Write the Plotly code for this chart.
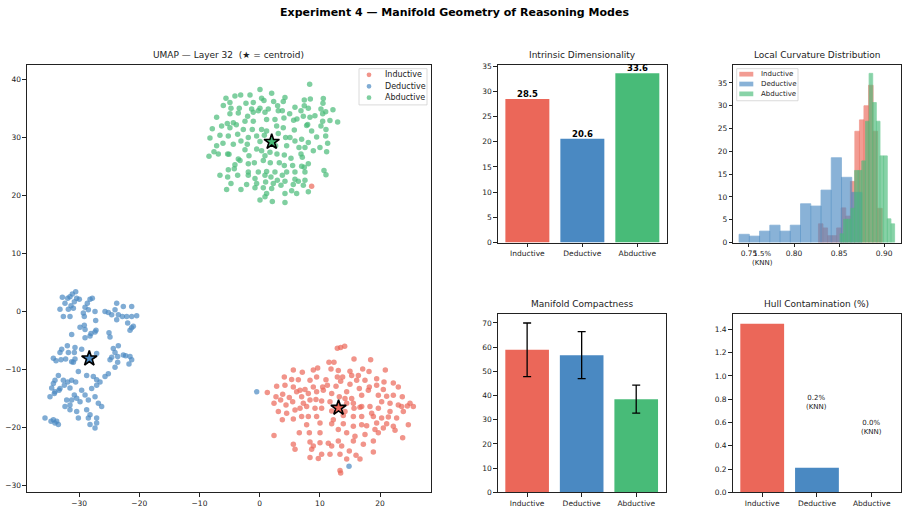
import plotly.graph_objects as go

# ---------------- data ----------------
CATEGORIES = ["Inductive", "Deductive", "Abductive"]
COLORS = {"Inductive": "#EB6759", "Deductive": "#4A89C2", "Abductive": "#48BB78"}

# UMAP embedding
INDUCTIVE_PTS = [
    (12.90, -6.34), (13.45, -6.22), (14.12, -6.00), (11.51, -8.77), (12.34, -8.77), (15.67, -8.20), (18.43, -8.32),
    (5.59, -10.07), (7.08, -10.46), (8.91, -10.07), (9.63, -9.73), (11.85, -9.90), (13.06, -10.18), (15.00, -10.29),
    (15.28, -11.03), (16.39, -11.03), (17.11, -9.90), (18.16, -10.35), (20.87, -10.07), (4.09, -11.31), (5.31, -11.71),
    (6.42, -11.76), (8.36, -11.87), (9.46, -11.31), (11.01, -11.76), (12.90, -11.31), (13.78, -11.31), (13.45, -12.04),
    (15.00, -12.55), (16.11, -11.87), (17.49, -11.87), (19.43, -11.59), (22.20, -12.33), (20.65, -12.16), (2.82, -12.89),
    (4.20, -12.72), (5.59, -13.00), (6.70, -13.57), (7.53, -13.46), (8.91, -13.00), (10.46, -13.00), (11.24, -12.72),
    (12.68, -12.89), (14.45, -13.85), (16.55, -13.29), (18.21, -13.00), (19.43, -12.72), (20.54, -13.46), (23.03, -13.00),
    (1.27, -13.97), (2.71, -14.70), (3.82, -14.25), (4.92, -14.81), (6.14, -13.85), (6.97, -14.70), (8.08, -14.13),
    (9.46, -13.85), (10.57, -13.57), (11.96, -14.13), (13.23, -14.70), (14.17, -14.98), (15.28, -14.98), (16.94, -14.42),
    (18.05, -13.57), (19.71, -14.42), (21.09, -14.59), (22.20, -14.42), (23.69, -14.70), (2.38, -15.83), (3.48, -15.26),
    (4.37, -16.11), (5.48, -15.55), (7.25, -15.83), (8.36, -15.26), (9.35, -15.15), (10.29, -15.43), (11.68, -15.55),
    (14.45, -15.83), (15.56, -15.83), (16.94, -16.39), (18.32, -16.39), (20.26, -15.55), (21.65, -15.83), (23.03, -16.11),
    (24.97, -15.83), (24.53, -16.28), (3.10, -17.24), (4.48, -17.52), (5.87, -16.96), (6.70, -16.68), (7.80, -16.39),
    (9.19, -16.68), (10.29, -16.68), (11.96, -17.13), (14.17, -17.24), (15.67, -16.68), (16.66, -16.51), (18.60, -17.52),
    (19.71, -16.68), (21.65, -17.24), (23.58, -16.39), (25.52, -16.39), (3.76, -18.65), (5.59, -18.54), (6.97, -18.09),
    (8.08, -18.09), (9.46, -18.09), (12.23, -18.65), (13.89, -17.92), (15.56, -18.09), (16.94, -18.09), (18.88, -18.09),
    (20.26, -18.37), (21.37, -18.20), (22.75, -18.37), (23.86, -17.24), (7.80, -19.50), (10.02, -19.22), (11.96, -19.33),
    (13.89, -19.33), (15.56, -19.78), (16.94, -19.50), (17.77, -19.67), (19.43, -19.22), (20.54, -20.07), (22.20, -19.78),
    (24.69, -19.50), (21.09, -19.33), (2.38, -21.37), (6.58, -20.91), (8.25, -20.91), (10.02, -20.91), (13.06, -20.35),
    (14.45, -20.91), (15.83, -21.48), (17.49, -21.20), (19.71, -20.91), (22.48, -20.46), (23.75, -21.76), (19.15, -20.35),
    (5.59, -22.89), (8.36, -22.50), (10.02, -22.61), (11.40, -22.72), (13.06, -22.33), (13.62, -23.17), (15.56, -22.33),
    (17.22, -22.89), (18.88, -22.33), (11.96, -23.17), (8.91, -23.17), (5.87, -23.74), (8.63, -23.74), (10.29, -24.59),
    (11.68, -24.59), (13.34, -24.59), (14.89, -24.02), (16.00, -24.76), (18.88, -24.19), (8.36, -25.15), (9.74, -25.32),
    (14.45, -25.43), (16.66, -25.43), (13.34, -27.41), (13.45, -27.81), (8.63, 21.58),
]

DEDUCTIVE_PTS = [
    (-30.56, 3.39), (-31.12, 2.99), (-31.51, 2.54), (-30.40, 2.26), (-29.96, 2.09), (-32.78, 2.43), (-31.89, 2.26),
    (-30.79, 1.69), (-28.18, 2.09), (-28.63, 1.41), (-27.80, 2.26), (-32.34, 1.41), (-31.34, 0.96), (-33.17, 0.39),
    (-31.78, 0.39), (-30.95, 0.56), (-29.01, 0.73), (-28.46, 0.28), (-29.29, -0.28), (-27.35, 0.00), (-32.61, -0.85),
    (-31.51, -0.85), (-29.13, -0.85), (-23.75, 1.41), (-22.65, 0.85), (-21.26, 0.85), (-25.69, 0.00), (-25.14, -0.17),
    (-24.03, 0.28), (-24.58, -0.57), (-23.48, -0.57), (-22.81, -0.85), (-23.75, -1.41), (-22.09, -0.85), (-21.26, -0.85),
    (-20.43, -0.74), (-21.93, -1.98), (-21.26, -2.83), (-21.54, -3.22), (-20.99, -2.54), (-29.84, -2.71), (-29.13, -2.38),
    (-29.01, -3.11), (-27.24, -1.58), (-27.19, -3.22), (-28.02, -3.79), (-27.35, -3.56), (-31.23, -3.96), (-29.01, -4.52),
    (-25.03, -3.67), (-24.86, -4.41), (-28.18, -4.24), (-31.95, -5.93), (-32.89, -6.50), (-33.17, -7.06), (-31.78, -7.06),
    (-30.68, -6.22), (-30.79, -7.06), (-29.57, -6.50), (-34.27, -8.08), (-33.83, -8.48), (-33.00, -8.31), (-32.23, -8.19),
    (-31.23, -8.65), (-30.68, -8.19), (-30.95, -8.76), (-27.08, -7.23), (-24.31, -6.39), (-23.48, -5.93), (-24.03, -7.06),
    (-24.58, -7.91), (-23.59, -7.74), (-22.65, -7.52), (-22.26, -7.63), (-21.54, -7.74), (-21.26, -8.31), (-21.71, -9.04),
    (-23.59, -8.76), (-24.03, -9.61), (-24.86, -8.31), (-30.12, -10.34), (-33.44, -11.02), (-34.00, -11.87), (-32.61, -11.87),
    (-31.89, -12.15), (-31.23, -11.87), (-30.56, -12.15), (-28.74, -11.02), (-27.63, -11.19), (-27.08, -11.75), (-26.52, -12.15),
    (-25.69, -11.19), (-25.14, -10.74), (-27.91, -13.28), (-27.08, -12.71), (-34.27, -12.43), (-34.55, -13.17), (-33.17, -13.28),
    (-32.45, -12.71), (-31.51, -13.17), (-34.83, -14.69), (-34.00, -13.84), (-33.33, -13.56), (-34.11, -14.13), (-30.79, -14.41),
    (-29.57, -13.56), (-29.01, -14.41), (-27.35, -14.69), (-28.46, -15.26), (-30.40, -14.97), (-29.84, -15.54), (-32.06, -15.26),
    (-31.23, -15.26), (-32.34, -16.39), (-31.51, -16.95), (-30.40, -17.23), (-28.74, -16.95), (-26.80, -15.82), (-26.25, -16.39),
    (-31.51, -16.10), (-28.18, -17.80), (-28.46, -18.36), (-27.08, -18.36), (-30.12, -18.36), (-35.66, -18.36), (-34.27, -18.65),
    (-33.72, -18.93), (-34.00, -19.21), (-33.44, -19.49), (-34.66, -18.93), (-28.18, -19.49), (-27.35, -20.06), (-27.08, -19.21),
    (-0.50, -13.85), (14.84, -26.68),
]

ABDUCTIVE_PTS = [
    (8.30, 39.15), (0.05, 38.24), (1.99, 37.57), (-1.61, 37.28), (-3.16, 37.28), (-4.11, 37.11), (-5.60, 36.72), (0.32, 36.72),
    (4.20, 36.83), (7.41, 36.44), (8.41, 36.60), (10.57, 36.66), (-4.94, 35.98), (-2.28, 35.87), (-1.06, 35.98), (2.32, 36.15),
    (3.92, 36.15), (0.71, 36.32), (-6.04, 35.47), (10.51, 35.87), (-4.77, 35.02), (-3.39, 35.02), (0.05, 35.02), (1.43, 34.85),
    (2.98, 35.42), (-1.34, 34.85), (-0.23, 34.57), (7.41, 35.42), (8.08, 35.02), (10.18, 34.85), (10.96, 34.40), (12.17, 34.74),
    (5.86, 35.19), (6.86, 34.57), (-7.15, 33.44), (-4.94, 34.06), (-3.55, 34.18), (-2.00, 33.61), (-1.06, 34.29), (0.88, 34.29),
    (3.09, 34.57), (3.76, 34.57), (4.98, 34.06), (6.19, 33.16), (8.35, 33.44), (9.18, 33.72), (10.46, 34.06), (-5.38, 32.37),
    (-4.38, 32.48), (-2.44, 32.76), (-1.06, 32.76), (1.15, 33.05), (2.54, 33.05), (4.03, 33.33), (5.64, 32.93), (7.25, 33.61),
    (7.97, 32.20), (10.46, 32.76), (11.67, 32.88), (12.95, 32.65), (-7.87, 31.46), (-6.32, 31.92), (-4.94, 31.63), (-3.88, 32.14),
    (-2.72, 31.35), (-1.23, 31.35), (0.32, 31.35), (1.15, 31.07), (2.82, 31.92), (3.92, 31.63), (5.75, 31.24), (7.80, 32.03),
    (8.63, 31.07), (10.18, 31.92), (11.01, 31.35), (-8.26, 29.88), (-6.60, 30.33), (-5.21, 30.22), (-3.66, 30.50), (-1.89, 29.94),
    (-0.51, 30.22), (0.77, 30.33), (3.09, 30.67), (4.31, 29.94), (5.03, 29.94), (6.97, 29.66), (8.08, 29.09), (9.46, 30.05),
    (10.96, 30.22), (-7.59, 27.51), (-7.15, 28.53), (-6.10, 28.98), (-5.32, 27.11), (-4.38, 28.81), (-3.11, 29.37), (-2.06, 28.81),
    (0.05, 29.26), (2.65, 28.53), (4.48, 28.53), (5.86, 29.37), (6.53, 28.24), (8.91, 27.68), (10.01, 28.24), (11.29, 28.98),
    (11.12, 27.51), (-8.42, 26.72), (-6.87, 27.11), (-5.10, 27.06), (-3.55, 26.27), (-2.44, 27.85), (-1.78, 26.83), (-0.51, 27.96),
    (0.32, 27.68), (0.88, 26.83), (1.71, 27.40), (2.87, 27.11), (4.09, 26.94), (5.20, 26.38), (6.86, 27.11), (7.52, 28.24),
    (-4.11, 25.25), (-3.27, 25.98), (-1.89, 25.42), (-0.89, 25.59), (0.60, 25.98), (1.76, 25.59), (3.26, 25.59), (4.09, 25.14),
    (5.47, 25.14), (7.08, 26.55), (8.08, 25.42), (6.97, 25.02), (-5.21, 24.40), (-4.22, 24.57), (-1.89, 24.01), (-0.23, 24.01),
    (1.15, 24.12), (2.54, 24.01), (3.76, 23.44), (4.48, 24.01), (5.86, 24.01), (7.41, 24.85), (7.52, 24.01), (10.68, 24.29),
    (11.01, 23.55), (-6.60, 23.44), (-5.32, 23.16), (-3.66, 23.44), (-1.89, 23.44), (-0.78, 22.88), (0.88, 23.44), (1.87, 23.16),
    (2.93, 22.59), (4.20, 22.42), (5.86, 22.76), (6.42, 22.42), (7.52, 22.59), (-4.77, 22.03), (-2.17, 21.86), (-0.51, 22.03),
    (0.99, 22.31), (2.26, 22.03), (3.54, 21.75), (5.58, 21.86), (7.25, 21.75), (-5.49, 21.01), (-3.11, 21.01), (-0.78, 21.29),
    (0.60, 21.29), (1.99, 21.18), (4.20, 20.33), (5.31, 20.79), (6.14, 20.33), (8.08, 20.62), (1.15, 20.33), (0.05, 19.20),
    (2.10, 18.92), (4.20, 18.75), (0.88, 19.77),
]

CENTROID_X = [13.1, -28.3, 2.0]
CENTROID_Y = [-16.6, -8.1, 29.2]

INTRINSIC_DIM = [28.5, 20.6, 33.6]

# Local curvature histograms (density): bin centers, heights, bin width
IND_CURV_CENTERS = [0.8296, 0.8347, 0.8397, 0.8448, 0.8498, 0.8549, 0.8599, 0.8650, 0.8700, 0.8751, 0.8801, 0.8852, 0.8902, 0.8953]
IND_CURV_DENSITY = [4.1, 3.2, 1.5, 1.5, 3.2, 7.6, 5.8, 13.4, 24.4, 26.9, 30.0, 34.5, 24.4, 7.5]
IND_CURV_WIDTH = 0.00505
DED_CURV_CENTERS = [0.7447, 0.7561, 0.7674, 0.7788, 0.7902, 0.8015, 0.8129, 0.8243, 0.8356, 0.8470, 0.8584, 0.8697]
DED_CURV_DENSITY = [1.8, 1.4, 2.5, 3.8, 2.5, 3.8, 8.5, 8.0, 11.5, 18.6, 14.3, 11.0]
DED_CURV_WIDTH = 0.01137
ABD_CURV_CENTERS = [0.8530, 0.8570, 0.8611, 0.8651, 0.8692, 0.8732, 0.8772, 0.8813, 0.8853, 0.8893, 0.8934, 0.8974, 0.9015, 0.9055, 0.9096]
ABD_CURV_DENSITY = [1.9, 5.1, 5.1, 7.5, 15.8, 15.8, 17.9, 26.6, 37.1, 30.7, 26.6, 19.0, 19.0, 5.2, 4.1]
ABD_CURV_WIDTH = 0.00404

COMPACTNESS = [58.9, 56.7, 38.5]
COMPACTNESS_ERR = [11.1, 9.7, 5.8]

HULL_CONTAM = [1.45, 0.21, 0.0]
KNN_LABELS = ["1.5%", "0.2%", "0.0%"]

# ---------------- figure ----------------
FONT = "DejaVu Sans"
INK = "#222222"
W, H = 909, 515


def px(x):
    return x / W


def py(y):
    return 1 - y / H


fig = go.Figure()

series_pts = {"Inductive": INDUCTIVE_PTS, "Deductive": DEDUCTIVE_PTS, "Abductive": ABDUCTIVE_PTS}
for name in CATEGORIES:
    xs, ys = zip(*series_pts[name])
    fig.add_trace(go.Scatter(
        x=xs, y=ys, mode="markers", name=name, showlegend=False,
        marker=dict(color=COLORS[name], size=5.5, opacity=0.7, line=dict(width=0)),
        xaxis="x", yaxis="y"))

fig.add_trace(go.Scatter(
    x=CENTROID_X, y=CENTROID_Y, mode="markers", showlegend=False,
    marker=dict(symbol="star", size=11.5, color=[COLORS[c] for c in CATEGORIES],
                line=dict(color="black", width=1.6)),
    xaxis="x", yaxis="y"))

# Intrinsic dimensionality
fig.add_trace(go.Bar(
    x=CATEGORIES, y=INTRINSIC_DIM, width=0.8, showlegend=False,
    marker=dict(color=[COLORS[c] for c in CATEGORIES], line=dict(width=0)),
    xaxis="x2", yaxis="y2"))
for c, v in zip(CATEGORIES, INTRINSIC_DIM):
    fig.add_annotation(text=f"<b>{v:.1f}</b>", x=c, y=v, xref="x2", yref="y2",
                       xanchor="center", yanchor="bottom", yshift=-2, showarrow=False,
                       font=dict(size=8.5, color="black", family=FONT))

# Curvature histograms
for name, cen, dens, w in [
    ("Inductive", IND_CURV_CENTERS, IND_CURV_DENSITY, IND_CURV_WIDTH),
    ("Deductive", DED_CURV_CENTERS, DED_CURV_DENSITY, DED_CURV_WIDTH),
    ("Abductive", ABD_CURV_CENTERS, ABD_CURV_DENSITY, ABD_CURV_WIDTH),
]:
    fig.add_trace(go.Bar(
        x=cen, y=dens, width=w, name=name, showlegend=False,
        marker=dict(color=COLORS[name], opacity=0.65, line=dict(color=COLORS[name], width=0.8)),
        xaxis="x3", yaxis="y3"))

# Compactness
fig.add_trace(go.Bar(
    x=CATEGORIES, y=COMPACTNESS, width=0.8, showlegend=False,
    marker=dict(color=[COLORS[c] for c in CATEGORIES], line=dict(width=0)),
    error_y=dict(type="data", array=COMPACTNESS_ERR, color="black", thickness=1.3, width=4),
    xaxis="x4", yaxis="y4"))

# Hull contamination
fig.add_trace(go.Bar(
    x=CATEGORIES, y=HULL_CONTAM, width=0.8, showlegend=False,
    marker=dict(color=[COLORS[c] for c in CATEGORIES], line=dict(width=0)),
    xaxis="x5", yaxis="y5"))


def axis(**kw):
    base = dict(showline=True, mirror=True, linecolor=INK, linewidth=1,
                ticks="outside", ticklen=3.5, tickwidth=1, tickcolor=INK,
                showgrid=False, zeroline=False,
                tickfont=dict(size=7.5, color=INK, family=FONT))
    base.update(kw)
    return base

D_SC_X, D_SC_Y = [0.0297, 0.4741], [0.0355, 0.8783]
D_ID_X, D_ID_Y = [0.5475, 0.7338], [0.5276, 0.8783]
D_CU_X, D_CU_Y = [0.8067, 0.9915], [0.5276, 0.8783]
D_CO_X, D_CO_Y = [0.5475, 0.7323], [0.0350, 0.3870]
D_HU_X, D_HU_Y = [0.8060, 0.9915], [0.0350, 0.3870]
HULL_YMAX = 1.535

fig.update_layout(
    width=W, height=H, margin=dict(l=0, r=0, t=0, b=0),
    paper_bgcolor="white", plot_bgcolor="white",
    font=dict(family=FONT, color=INK),
    barmode="overlay", showlegend=False,
    title=dict(text="<b>Experiment 4 — Manifold Geometry of Reasoning Modes</b>",
               x=0.5, xanchor="center", y=1 - 12 / H, yanchor="middle",
               font=dict(size=11, color="black", family=FONT)),
    xaxis=axis(domain=D_SC_X, range=[-38.65, 28.45], dtick=10, tick0=0, anchor="y"),
    yaxis=axis(domain=D_SC_Y, range=[-31.1, 42.5], dtick=10, tick0=0, anchor="x"),
    xaxis2=axis(domain=D_ID_X, range=[-0.54, 2.54], anchor="y2", type="category"),
    yaxis2=axis(domain=D_ID_Y, range=[0, 35.3], dtick=5, anchor="x2"),
    xaxis3=axis(domain=D_CU_X, range=[0.7326, 0.919], tickvals=[0.75, 0.80, 0.85, 0.90],
                tickformat=".2f", anchor="y3"),
    yaxis3=axis(domain=D_CU_Y, range=[0, 39.0], dtick=5, anchor="x3"),
    xaxis4=axis(domain=D_CO_X, range=[-0.54, 2.54], anchor="y4", type="category"),
    yaxis4=axis(domain=D_CO_Y, range=[0, 73.8], dtick=10, anchor="x4"),
    xaxis5=axis(domain=D_HU_X, range=[-0.54, 2.54], anchor="y5", type="category"),
    yaxis5=axis(domain=D_HU_Y, range=[0, HULL_YMAX], dtick=0.2, tickformat=".1f", anchor="x5"),
)

subtitles = [
    ("UMAP — Layer 32\u00a0\u00a0(★ = centroid)", D_SC_X, D_SC_Y),
    ("Intrinsic Dimensionality", D_ID_X, D_ID_Y),
    ("Local Curvature Distribution", D_CU_X, D_CU_Y),
    ("Manifold Compactness", D_CO_X, D_CO_Y),
    ("Hull Contamination (%)", D_HU_X, D_HU_Y),
]
for text, dx, dy in subtitles:
    fig.add_annotation(text=text, x=(dx[0] + dx[1]) / 2, y=dy[1], xref="paper", yref="paper",
                       xanchor="center", yanchor="bottom", yshift=3, showarrow=False,
                       font=dict(size=9, color=INK, family=FONT))

# KNN contamination labels, placed at value + offset in hull data units (unclipped)
for i, (lab, v) in enumerate(zip(KNN_LABELS, HULL_CONTAM)):
    ypaper = D_HU_Y[0] + (v + 0.56) / HULL_YMAX * (D_HU_Y[1] - D_HU_Y[0])
    fig.add_annotation(text=f"{lab}<br>(KNN)", x=CATEGORIES[i], xref="x5", y=ypaper, yref="paper",
                       xanchor="center", yanchor="middle", showarrow=False,
                       font=dict(size=7, color=INK, family=FONT))

# ---- compact matplotlib-style legends ----
ROWS_SC = [73.0, 84.6, 96.2]
fig.add_shape(type="rect", xref="paper", yref="paper",
              x0=px(359), x1=px(427), y0=py(103.5), y1=py(66.7),
              line=dict(color="#d0d0d0", width=0.8), fillcolor="rgba(255,255,255,0.8)", layer="above")
for name, ry in zip(CATEGORIES, ROWS_SC):
    fig.add_shape(type="circle", xref="paper", yref="paper",
                  x0=px(366.6), x1=px(371.4), y0=py(ry + 2.4), y1=py(ry - 2.4),
                  line=dict(width=0), fillcolor=COLORS[name], opacity=0.7, layer="above")
    fig.add_annotation(text=name, x=px(383), y=py(ry), xref="paper", yref="paper",
                       xanchor="left", yanchor="middle", showarrow=False,
                       font=dict(size=8, color=INK, family=FONT))

ROWS_CU = [72.3, 82.3, 92.3]
fig.add_shape(type="rect", xref="paper", yref="paper",
              x0=px(736.7), x1=px(798), y0=py(99.3), y1=py(66.7),
              line=dict(color="#d0d0d0", width=0.8), fillcolor="rgba(255,255,255,0.8)", layer="above")
for name, ry in zip(CATEGORIES, ROWS_CU):
    fig.add_shape(type="rect", xref="paper", yref="paper",
                  x0=px(739.3), x1=px(753.3), y0=py(ry + 2.4), y1=py(ry - 2.4),
                  line=dict(width=0), fillcolor=COLORS[name], opacity=0.65, layer="above")
    fig.add_annotation(text=name, x=px(758.5), y=py(ry), xref="paper", yref="paper",
                       xanchor="left", yanchor="middle", showarrow=False,
                       font=dict(size=7, color=INK, family=FONT))

fig.write_html("out.html")
